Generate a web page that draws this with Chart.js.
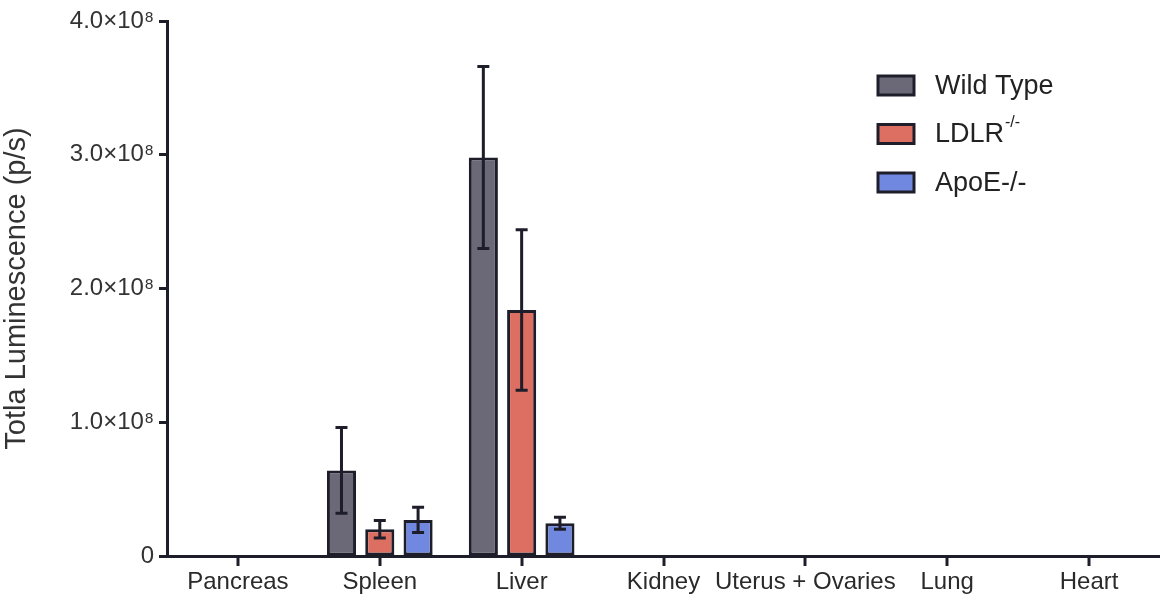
<!DOCTYPE html>
<html>
<head>
<meta charset="utf-8">
<script src="https://cdn.jsdelivr.net/npm/chart.js@4/dist/chart.umd.min.js"></script>
<style>
  html, body { margin: 0; padding: 0; background: #fff; }
  #wrap { width: 1160px; height: 600px; position: relative; }
</style>
</head>
<body>
<div id="wrap"><canvas id="c" width="1160" height="600"></canvas></div>
<script>
const categories = ['Pancreas', 'Spleen', 'Liver', 'Kidney', 'Uterus + Ovaries', 'Lung', 'Heart'];
const wildType    = [0, 0.64e8, 2.98e8, 0.003e8, 0.004e8, 0.003e8, 0];
const wildTypeErr = [0, 0.32e8, 0.68e8, 0, 0, 0, 0];
const ldlr        = [0, 0.20e8, 1.84e8, 0, 0, 0, 0];
const ldlrErr     = [0, 0.065e8, 0.60e8, 0, 0, 0, 0];
const apoe        = [0, 0.27e8, 0.245e8, 0, 0, 0.004e8, 0];
const apoeErr     = [0, 0.095e8, 0.045e8, 0, 0, 0, 0];
const yTicks = [0, 1e8, 2e8, 3e8, 4e8];
const yTickLabels = ['0', '1.0×10⁸', '2.0×10⁸', '3.0×10⁸', '4.0×10⁸'];
const legendItems = [
  { text: 'Wild Type', sup: '' },
  { text: 'LDLR', sup: '-/-' },
  { text: 'ApoE-/-', sup: '' }
];

const INK = '#1e1e2a';
const FONT = '"Liberation Sans", Arial, sans-serif';

const errorBars = {
  id: 'errorBars',
  afterDatasetsDraw(chart) {
    const ctx = chart.ctx;
    const ys = chart.scales.y;
    ctx.save();
    ctx.strokeStyle = INK;
    ctx.lineWidth = 3;
    chart.data.datasets.forEach((ds, i) => {
      const meta = chart.getDatasetMeta(i);
      meta.data.forEach((bar, j) => {
        const e = ds.errors[j];
        if (!e) return;
        const v = ds.data[j];
        const yt = ys.getPixelForValue(v + e);
        const yb = ys.getPixelForValue(v - e);
        const x = bar.x, cap = 6;
        ctx.beginPath();
        ctx.moveTo(x, yt); ctx.lineTo(x, yb);
        ctx.moveTo(x - cap, yt); ctx.lineTo(x + cap, yt);
        ctx.moveTo(x - cap, yb); ctx.lineTo(x + cap, yb);
        ctx.stroke();
      });
    });
    ctx.restore();
  }
};

const xTickMarks = {
  id: 'xTickMarks',
  afterDraw(chart) {
    const ctx = chart.ctx;
    const xs = chart.scales.x;
    const yb = chart.chartArea.bottom;
    ctx.save();
    ctx.strokeStyle = INK;
    ctx.lineWidth = 3;
    xs.ticks.forEach((t, i) => {
      const x = Math.round(xs.getPixelForTick(i));
      ctx.beginPath();
      ctx.moveTo(x, yb);
      ctx.lineTo(x, yb + 10);
      ctx.stroke();
    });
    ctx.restore();
  }
};

const customLegend = {
  id: 'customLegend',
  afterDraw(chart) {
    const ctx = chart.ctx;
    ctx.save();
    const x0 = 878, y0 = 76, step = 48.5, bw = 36, bh = 19;
    chart.data.datasets.forEach((ds, i) => {
      const y = y0 + i * step;
      ctx.fillStyle = ds.backgroundColor;
      ctx.fillRect(x0, y, bw, bh);
      ctx.lineWidth = 3;
      ctx.strokeStyle = INK;
      ctx.strokeRect(x0, y, bw, bh);
      const item = legendItems[i];
      ctx.fillStyle = '#222';
      ctx.textBaseline = 'middle';
      ctx.textAlign = 'left';
      ctx.font = '27px ' + FONT;
      ctx.fillText(item.text, 935, y + bh / 2 + 1);
      if (item.sup) {
        const w = ctx.measureText(item.text).width;
        ctx.font = '16px ' + FONT;
        ctx.fillText(item.sup, 935 + w + 1, y + bh / 2 - 11);
      }
    });
    ctx.restore();
  }
};

new Chart(document.getElementById('c'), {
  type: 'bar',
  data: {
    labels: categories,
    datasets: [
      { label: 'Wild Type', data: wildType, errors: wildTypeErr, backgroundColor: '#6b6978' },
      { label: 'LDLR-/-', data: ldlr, errors: ldlrErr, backgroundColor: '#dc6e62' },
      { label: 'ApoE-/-', data: apoe, errors: apoeErr, backgroundColor: '#7088e0' }
    ].map(d => Object.assign(d, {
      borderColor: INK, borderWidth: 3, borderSkipped: false,
      categoryPercentage: 0.81, barPercentage: 0.76
    }))
  },
  options: {
    responsive: false,
    animation: false,
    devicePixelRatio: 1,
    layout: { padding: { top: 21, right: 0, left: 0, bottom: 0 } },
    plugins: { legend: { display: false }, tooltip: { enabled: false } },
    scales: {
      x: {
        type: 'category',
        offset: true,
        grid: { display: false, drawTicks: false },
        border: { display: true, color: INK, width: 3 },
        ticks: { color: '#2a2a2a', font: { family: FONT, size: 24 }, padding: 12, maxRotation: 0, autoSkip: false },
        afterFit(scale) { scale.height = 44; }
      },
      y: {
        min: 0, max: 4e8,
        afterBuildTicks(scale) { scale.ticks = yTicks.map(v => ({ value: v })); },
        grid: { display: true, drawOnChartArea: false, drawTicks: true, tickLength: 8, tickWidth: 3, tickColor: INK },
        border: { display: true, color: INK, width: 3 },
        ticks: {
          color: '#333', font: { family: FONT, size: 24 }, padding: 5,
          callback(v) { const k = yTicks.indexOf(v); return k >= 0 ? yTickLabels[k] : ''; }
        },
        title: { display: true, text: 'Totla Luminescence (p/s)', color: '#333', font: { family: FONT, size: 29 }, padding: { top: 0, bottom: 0 } },
        afterFit(scale) { scale.width = 167; }
      }
    }
  },
  plugins: [errorBars, xTickMarks, customLegend]
});
</script>
</body>
</html>
